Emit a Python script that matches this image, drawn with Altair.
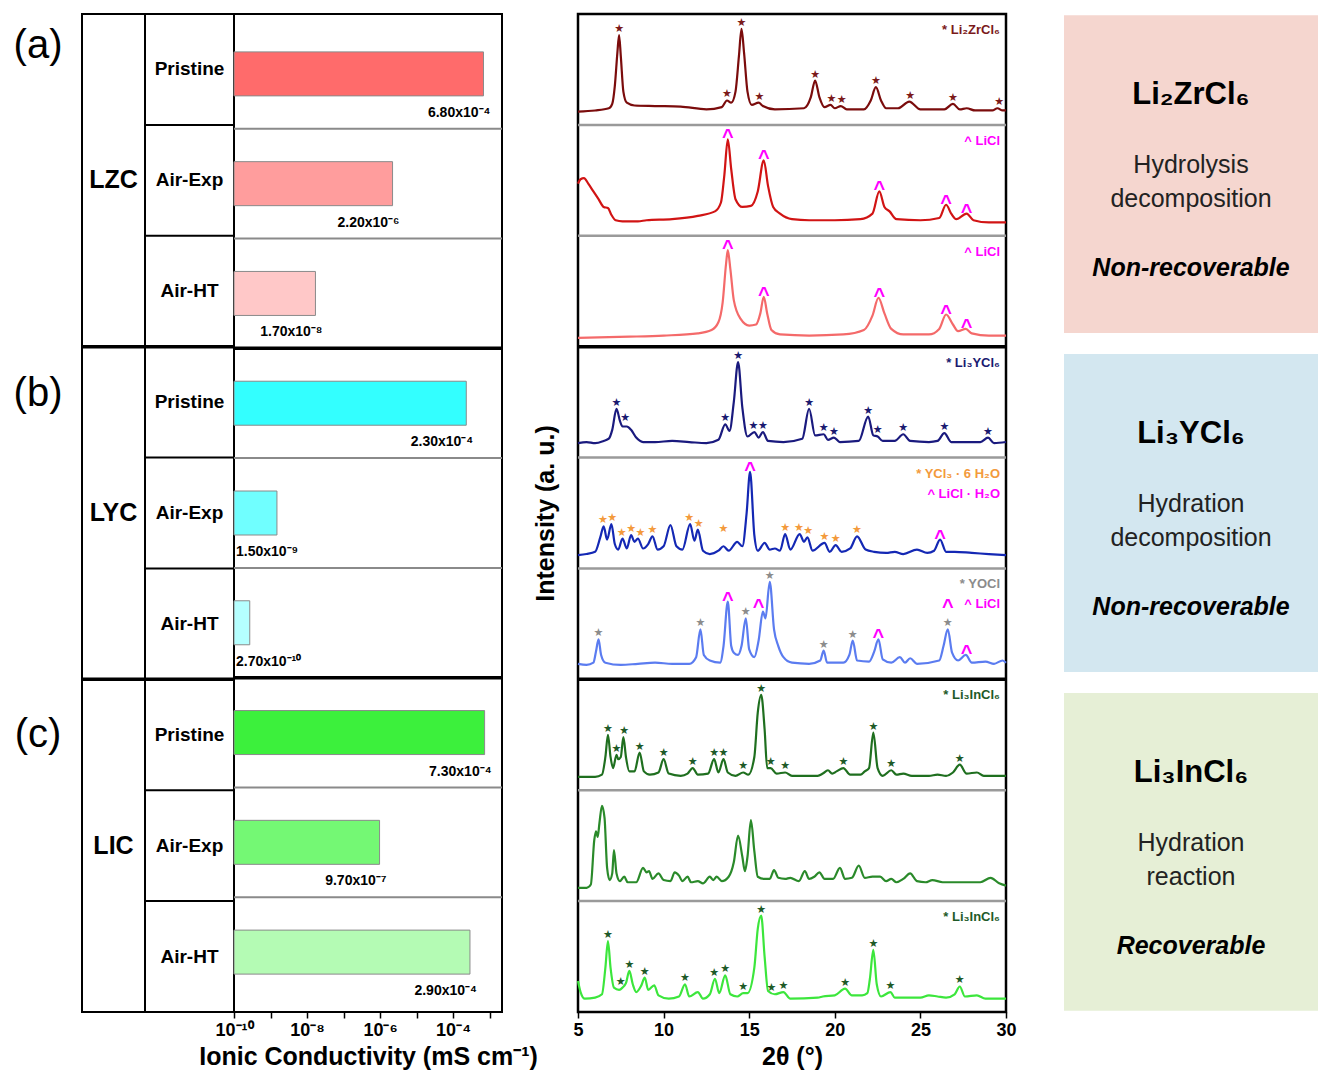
import math
import altair as alt
import pandas as pd

FONT = "Liberation Sans"
STAR_FONT = "DejaVu Sans"

# ---------------- ionic conductivity (left table) ----------------
groups = ["LZC", "LYC", "LIC"]
group_letters = ["(a)", "(b)", "(c)"]
conditions = ["Pristine", "Air-Exp", "Air-HT"]
conductivity_lzc = [6.8e-4, 2.2e-6, 1.7e-8]
conductivity_lyc = [2.3e-4, 1.5e-9, 2.7e-10]
conductivity_lic = [7.3e-4, 9.7e-7, 2.9e-4]
conductivity_ticks = [1e-10, 1e-9, 1e-8, 1e-7, 1e-6, 1e-5, 1e-4, 1e-3]
bar_colors = ["#ff6b6b", "#ff9d9d", "#ffc8c8",
              "#33ffff", "#70ffff", "#b5ffff",
              "#3cf03c", "#74f874", "#b4fbb4"]

# ---------------- XRD patterns (2theta, relative intensity within panel) ----------------
panel_names = ["LZC Pristine", "LZC Air-Exp", "LZC Air-HT",
               "LYC Pristine", "LYC Air-Exp", "LYC Air-HT",
               "LIC Pristine", "LIC Air-Exp", "LIC Air-HT"]
line_colors = ["#7b0c0c", "#d11414", "#f46a6a",
               "#1a1a7e", "#1428b4", "#5b7cf0",
               "#1f6f1f", "#2a8a2a", "#3ce63c"]
twotheta_ticks = [5, 10, 15, 20, 25, 30]

xrd_lzc_pristine = [(5.0,0.12),(6.0,0.13),(6.8,0.15),(7.0,0.19),(7.15,0.35),(7.3,0.65),(7.4,0.81),(7.5,0.62),(7.65,0.3),(7.85,0.2),(8.3,0.175),(9.5,0.17),(11,0.165),(12.5,0.14),(13.4,0.16),(13.7,0.22),(13.95,0.2),(14.2,0.3),(14.4,0.62),(14.55,0.865),(14.7,0.65),(14.9,0.3),(15.15,0.18),(15.55,0.2),(15.8,0.17),(16.5,0.14),(18.2,0.15),(18.6,0.25),(18.85,0.40),(19.1,0.25),(19.4,0.16),(19.75,0.18),(20.0,0.15),(20.35,0.17),(20.7,0.14),(21.7,0.14),(22.1,0.22),(22.4,0.34),(22.7,0.22),(23.0,0.15),(23.7,0.15),(24.35,0.21),(25.0,0.14),(26.4,0.14),(26.9,0.19),(27.3,0.14),(27.7,0.15),(28.2,0.13),(29.2,0.13),(29.5,0.15),(29.8,0.13),(30,0.13)]
xrd_lzc_airexp = [(5.0,0.47),(5.15,0.51),(5.35,0.52),(5.6,0.47),(5.9,0.40),(6.2,0.33),(6.5,0.26),(6.75,0.25),(6.95,0.19),(7.2,0.14),(7.6,0.13),(8.5,0.13),(9.0,0.14),(10.5,0.15),(12.0,0.18),(13.0,0.22),(13.35,0.3),(13.55,0.55),(13.75,0.87),(13.95,0.6),(14.2,0.33),(14.6,0.26),(15.1,0.27),(15.5,0.4),(15.85,0.68),(16.1,0.45),(16.4,0.26),(16.8,0.2),(17.5,0.15),(18.5,0.14),(20.0,0.14),(21.5,0.15),(22.2,0.2),(22.6,0.40),(22.9,0.26),(23.2,0.22),(23.6,0.15),(25.0,0.14),(26.1,0.16),(26.5,0.28),(26.8,0.2),(27.1,0.15),(27.7,0.20),(28.1,0.14),(29,0.12),(30,0.12)]
xrd_lzc_airht = [(5.0,0.08),(8,0.09),(10,0.10),(12,0.12),(12.8,0.15),(13.2,0.22),(13.45,0.4),(13.65,0.75),(13.75,0.87),(13.9,0.7),(14.1,0.42),(14.5,0.25),(15.0,0.19),(15.4,0.2),(15.65,0.3),(15.85,0.45),(16.05,0.3),(16.3,0.15),(16.8,0.11),(18.5,0.1),(20.5,0.11),(21.7,0.15),(22.2,0.28),(22.55,0.44),(22.9,0.3),(23.3,0.16),(24,0.11),(25.5,0.11),(26.1,0.16),(26.5,0.29),(26.9,0.2),(27.2,0.14),(27.65,0.16),(28.0,0.12),(29,0.1),(30,0.1)]
xrd_lyc_pristine = [(5.0,0.13),(5.5,0.14),(6.0,0.13),(6.5,0.15),(6.8,0.17),(7.0,0.25),(7.25,0.44),(7.45,0.33),(7.6,0.28),(7.85,0.28),(8.1,0.25),(8.4,0.18),(8.8,0.14),(9.5,0.14),(10.5,0.15),(11.5,0.14),(12.5,0.13),(13.2,0.16),(13.6,0.30),(13.85,0.24),(14.1,0.5),(14.35,0.86),(14.6,0.45),(14.9,0.19),(15.3,0.23),(15.55,0.18),(15.8,0.23),(16.1,0.15),(17,0.14),(18.1,0.17),(18.5,0.44),(18.85,0.2),(19.35,0.21),(19.6,0.16),(19.95,0.18),(20.3,0.14),(21.4,0.15),(21.95,0.37),(22.25,0.2),(22.5,0.19),(22.8,0.15),(23.5,0.15),(24.0,0.21),(24.4,0.15),(25.5,0.14),(26.0,0.15),(26.4,0.22),(26.8,0.14),(28.5,0.14),(28.95,0.18),(29.3,0.13),(30,0.14)]
xrd_lyc_airexp = [(5.0,0.12),(5.5,0.13),(6.0,0.15),(6.3,0.28),(6.5,0.38),(6.7,0.26),(6.95,0.40),(7.15,0.22),(7.35,0.17),(7.6,0.27),(7.85,0.18),(8.1,0.30),(8.3,0.24),(8.5,0.27),(8.8,0.18),(9.1,0.22),(9.35,0.29),(9.65,0.17),(10.0,0.2),(10.4,0.39),(10.75,0.2),(11.1,0.17),(11.55,0.40),(11.8,0.25),(12.0,0.35),(12.3,0.16),(12.7,0.13),(13.2,0.16),(13.5,0.2),(13.8,0.16),(14.3,0.24),(14.6,0.2),(14.85,0.5),(15.05,0.87),(15.3,0.3),(15.5,0.16),(15.9,0.23),(16.2,0.17),(16.5,0.18),(16.8,0.16),(17.1,0.31),(17.4,0.17),(17.95,0.31),(18.2,0.24),(18.4,0.28),(18.7,0.16),(19.4,0.23),(19.7,0.15),(20.05,0.21),(20.4,0.15),(20.9,0.18),(21.3,0.29),(21.8,0.17),(22.3,0.15),(23.0,0.14),(23.5,0.15),(24.0,0.13),(24.8,0.17),(25.4,0.14),(25.8,0.16),(26.15,0.26),(26.5,0.15),(27.0,0.15),(28.0,0.14),(29,0.13),(30,0.12)]
xrd_lyc_airht = [(5.0,0.14),(5.5,0.13),(5.9,0.15),(6.05,0.25),(6.2,0.36),(6.35,0.22),(6.6,0.15),(7.5,0.13),(8.5,0.14),(9.5,0.15),(10.5,0.14),(11.5,0.14),(11.9,0.2),(12.15,0.45),(12.35,0.22),(12.7,0.17),(13.3,0.15),(13.5,0.3),(13.75,0.70),(13.95,0.3),(14.1,0.24),(14.35,0.22),(14.55,0.3),(14.8,0.55),(15.0,0.27),(15.3,0.2),(15.55,0.35),(15.8,0.61),(15.95,0.55),(16.2,0.88),(16.45,0.45),(16.7,0.3),(17.0,0.2),(17.5,0.15),(18.5,0.14),(19.15,0.17),(19.35,0.26),(19.55,0.15),(20.5,0.15),(20.85,0.22),(21.05,0.35),(21.3,0.17),(22.0,0.16),(22.3,0.25),(22.55,0.36),(22.8,0.18),(23.3,0.15),(23.8,0.2),(24.1,0.15),(24.4,0.19),(24.8,0.14),(26.1,0.17),(26.35,0.3),(26.6,0.45),(26.85,0.24),(27.2,0.17),(27.65,0.22),(28.0,0.15),(28.8,0.16),(29.3,0.14),(29.8,0.17),(30,0.15)]
xrd_lic_pristine = [(5.0,0.12),(6.0,0.12),(6.4,0.14),(6.6,0.3),(6.75,0.50),(6.9,0.3),(7.05,0.2),(7.25,0.32),(7.35,0.28),(7.5,0.3),(7.65,0.48),(7.8,0.3),(8.0,0.17),(8.3,0.17),(8.6,0.34),(8.85,0.17),(9.2,0.14),(9.7,0.16),(10.0,0.28),(10.3,0.15),(11.0,0.13),(11.4,0.15),(11.7,0.20),(12.0,0.14),(12.6,0.15),(12.95,0.28),(13.2,0.16),(13.5,0.28),(13.75,0.16),(14.2,0.13),(14.65,0.16),(14.95,0.14),(15.3,0.3),(15.5,0.7),(15.7,0.86),(15.9,0.55),(16.05,0.2),(16.25,0.2),(16.6,0.15),(17.1,0.16),(17.5,0.13),(18.5,0.13),(19.0,0.13),(19.3,0.15),(19.6,0.18),(19.85,0.15),(20.1,0.17),(20.5,0.20),(20.9,0.14),(21.5,0.14),(21.75,0.17),(22.0,0.2),(22.25,0.52),(22.5,0.2),(22.8,0.13),(23.3,0.18),(23.6,0.14),(24.0,0.15),(24.5,0.13),(25.5,0.13),(26.0,0.14),(26.5,0.13),(26.9,0.16),(27.3,0.23),(27.7,0.15),(28.3,0.16),(28.7,0.13),(30,0.13)]
xrd_lic_airexp = [(5.0,0.12),(5.5,0.12),(5.75,0.15),(5.95,0.55),(6.05,0.63),(6.15,0.58),(6.25,0.7),(6.4,0.86),(6.55,0.75),(6.7,0.3),(6.85,0.19),(7.0,0.25),(7.1,0.46),(7.25,0.25),(7.45,0.18),(7.7,0.22),(7.9,0.17),(8.4,0.17),(8.8,0.30),(9.0,0.26),(9.15,0.27),(9.35,0.2),(9.7,0.25),(10.0,0.19),(10.4,0.18),(10.65,0.26),(10.9,0.23),(11.1,0.18),(11.4,0.22),(11.6,0.17),(12.0,0.18),(12.3,0.16),(12.7,0.22),(12.9,0.19),(13.1,0.22),(13.4,0.18),(13.8,0.22),(14.1,0.35),(14.35,0.59),(14.6,0.4),(14.75,0.27),(14.9,0.4),(15.1,0.73),(15.3,0.45),(15.5,0.22),(15.9,0.2),(16.2,0.2),(16.45,0.28),(16.7,0.21),(17.1,0.2),(17.4,0.21),(17.9,0.18),(18.25,0.27),(18.5,0.2),(18.8,0.22),(19.1,0.26),(19.4,0.2),(19.9,0.2),(20.3,0.30),(20.6,0.2),(21.0,0.21),(21.4,0.32),(21.75,0.21),(22.2,0.22),(22.65,0.22),(23.0,0.18),(23.3,0.2),(23.6,0.17),(24.0,0.2),(24.4,0.25),(24.8,0.18),(25.3,0.17),(25.7,0.19),(26.3,0.17),(27.1,0.17),(27.8,0.17),(28.5,0.17),(29.1,0.21),(29.6,0.16),(30,0.14)]
xrd_lic_airht = [(5.0,0.28),(5.15,0.18),(5.4,0.12),(6.0,0.13),(6.4,0.16),(6.6,0.4),(6.75,0.64),(6.9,0.4),(7.1,0.22),(7.4,0.2),(7.6,0.22),(7.8,0.26),(8.0,0.37),(8.2,0.25),(8.4,0.18),(8.7,0.24),(8.9,0.31),(9.1,0.2),(9.45,0.24),(9.7,0.15),(10.3,0.12),(10.9,0.14),(11.25,0.25),(11.5,0.14),(12.0,0.18),(12.3,0.12),(12.7,0.16),(13.0,0.30),(13.25,0.17),(13.6,0.33),(13.9,0.16),(14.3,0.14),(14.65,0.17),(14.9,0.17),(15.3,0.4),(15.5,0.75),(15.7,0.87),(15.9,0.5),(16.1,0.19),(16.5,0.16),(17.0,0.18),(17.4,0.12),(19.0,0.13),(19.3,0.14),(20.0,0.15),(20.6,0.21),(21.0,0.15),(21.6,0.15),(21.9,0.17),(22.05,0.3),(22.25,0.56),(22.45,0.25),(22.7,0.14),(23.25,0.18),(23.5,0.13),(25.0,0.13),(25.5,0.15),(26.0,0.14),(26.5,0.13),(27.0,0.16),(27.3,0.23),(27.6,0.14),(28.3,0.15),(28.8,0.12),(30,0.12)]
xrd_series = [xrd_lzc_pristine, xrd_lzc_airexp, xrd_lzc_airht,
              xrd_lyc_pristine, xrd_lyc_airexp, xrd_lyc_airht,
              xrd_lic_pristine, xrd_lic_airexp, xrd_lic_airht]

# indexed reflections: (2theta, peak intensity, phase)
phase_names = ["Li2ZrCl6", "LiCl", "Li3YCl6", "YCl3·6H2O", "LiCl·H2O", "YOCl", "Li3InCl6"]
phase_colors = ["#7b1a1a", "#ff00ff", "#1a1a70", "#f39a3c", "#ff00ff", "#8c8c8c", "#1e5a28"]
caret_phases = ["LiCl", "LiCl·H2O"]

peaks_lzc_pristine = [(7.4,0.81,"Li2ZrCl6"),(13.7,0.22,"Li2ZrCl6"),(14.55,0.865,"Li2ZrCl6"),(15.6,0.2,"Li2ZrCl6"),(18.85,0.40,"Li2ZrCl6"),(19.8,0.18,"Li2ZrCl6"),(20.4,0.17,"Li2ZrCl6"),(22.4,0.34,"Li2ZrCl6"),(24.4,0.21,"Li2ZrCl6"),(26.9,0.19,"Li2ZrCl6"),(29.6,0.15,"Li2ZrCl6")]
peaks_lzc_airexp = [(13.75,0.87,"LiCl"),(15.85,0.68,"LiCl"),(22.6,0.40,"LiCl"),(26.5,0.28,"LiCl"),(27.7,0.20,"LiCl")]
peaks_lzc_airht = [(13.75,0.87,"LiCl"),(15.85,0.45,"LiCl"),(22.6,0.44,"LiCl"),(26.5,0.29,"LiCl"),(27.7,0.16,"LiCl")]
peaks_lyc_pristine = [(7.25,0.44,"Li3YCl6"),(7.75,0.30,"Li3YCl6"),(13.6,0.30,"Li3YCl6"),(14.35,0.86,"Li3YCl6"),(15.25,0.23,"Li3YCl6"),(15.8,0.23,"Li3YCl6"),(18.5,0.44,"Li3YCl6"),(19.35,0.21,"Li3YCl6"),(19.95,0.18,"Li3YCl6"),(21.95,0.37,"Li3YCl6"),(22.5,0.19,"Li3YCl6"),(24.0,0.21,"Li3YCl6"),(26.4,0.22,"Li3YCl6"),(28.95,0.18,"Li3YCl6")]
peaks_lyc_airexp = [(6.45,0.38,"YCl3·6H2O"),(7.0,0.40,"YCl3·6H2O"),(7.55,0.27,"YCl3·6H2O"),(8.1,0.30,"YCl3·6H2O"),(8.65,0.27,"YCl3·6H2O"),(9.35,0.29,"YCl3·6H2O"),(11.5,0.40,"YCl3·6H2O"),(12.05,0.35,"YCl3·6H2O"),(13.5,0.30,"YCl3·6H2O"),(17.1,0.31,"YCl3·6H2O"),(17.9,0.31,"YCl3·6H2O"),(18.45,0.28,"YCl3·6H2O"),(19.4,0.23,"YCl3·6H2O"),(20.05,0.21,"YCl3·6H2O"),(21.3,0.29,"YCl3·6H2O"),(15.05,0.87,"LiCl·H2O"),(26.15,0.26,"LiCl·H2O")]
peaks_lyc_airht = [(6.2,0.36,"YOCl"),(12.15,0.45,"YOCl"),(14.8,0.55,"YOCl"),(16.2,0.88,"YOCl"),(19.35,0.26,"YOCl"),(21.05,0.35,"YOCl"),(26.6,0.45,"YOCl"),(13.75,0.70,"LiCl"),(15.55,0.63,"LiCl"),(22.55,0.36,"LiCl"),(26.6,0.63,"LiCl"),(27.7,0.22,"LiCl")]
peaks_lic_pristine = [(6.75,0.50,"Li3InCl6"),(7.25,0.32,"Li3InCl6"),(7.7,0.48,"Li3InCl6"),(8.6,0.34,"Li3InCl6"),(10.0,0.28,"Li3InCl6"),(11.7,0.20,"Li3InCl6"),(12.95,0.28,"Li3InCl6"),(13.5,0.28,"Li3InCl6"),(14.65,0.16,"Li3InCl6"),(15.7,0.86,"Li3InCl6"),(16.25,0.2,"Li3InCl6"),(17.1,0.16,"Li3InCl6"),(20.5,0.20,"Li3InCl6"),(22.25,0.52,"Li3InCl6"),(23.3,0.18,"Li3InCl6"),(27.3,0.23,"Li3InCl6")]
peaks_lic_airexp = []
peaks_lic_airht = [(6.75,0.64,"Li3InCl6"),(7.5,0.22,"Li3InCl6"),(8.0,0.37,"Li3InCl6"),(8.9,0.31,"Li3InCl6"),(11.25,0.25,"Li3InCl6"),(12.95,0.30,"Li3InCl6"),(13.6,0.33,"Li3InCl6"),(14.65,0.17,"Li3InCl6"),(15.7,0.87,"Li3InCl6"),(16.3,0.16,"Li3InCl6"),(17.0,0.18,"Li3InCl6"),(20.6,0.21,"Li3InCl6"),(22.25,0.56,"Li3InCl6"),(23.25,0.18,"Li3InCl6"),(27.3,0.23,"Li3InCl6")]
peak_series = [peaks_lzc_pristine, peaks_lzc_airexp, peaks_lzc_airht,
               peaks_lyc_pristine, peaks_lyc_airexp, peaks_lyc_airht,
               peaks_lic_pristine, peaks_lic_airexp, peaks_lic_airht]

# phase legends inside panels: (text, phase)
legend_series = [[("* Li₂ZrCl₆", "Li2ZrCl6")], [("^ LiCl", "LiCl")], [("^ LiCl", "LiCl")],
                 [("* Li₃YCl₆", "Li3YCl6")], [("* YCl₃ · 6 H₂O", "YCl3·6H2O"), ("^ LiCl · H₂O", "LiCl·H2O")],
                 [("* YOCl", "YOCl"), ("^ LiCl", "LiCl")],
                 [("* Li₃InCl₆", "Li3InCl6")], [], [("* Li₃InCl₆", "Li3InCl6")]]

# ---------------- summary boxes ----------------
box_titles = ["Li₂ZrCl₆", "Li₃YCl₆", "Li₃InCl₆"]
box_line1 = ["Hydrolysis", "Hydration", "Hydration"]
box_line2 = ["decomposition", "decomposition", "reaction"]
box_verdict = ["Non-recoverable", "Non-recoverable", "Recoverable"]
box_colors = ["#f5d6cf", "#d3e7f0", "#e6efd6"]

# ---------------- layout constants ----------------
W_LBL, W_GRP, W_ROW, W_BAR = 74, 63, 89, 268
GAP1, W_XRD, GAP2, W_BOX = 76, 428, 58, 254
H = 998
N_ROWS = 9

# ---------------- build tables ----------------
SUP = str.maketrans("-0123456789", "⁻⁰¹²³⁴⁵⁶⁷⁸⁹")


def sci_label(v):
    e = math.floor(math.log10(v))
    m = v / 10 ** e
    return f"{m:.2f}x10{str(e).translate(SUP)}"


all_cond = [conductivity_lzc, conductivity_lyc, conductivity_lic]
rows = []
for gi, g in enumerate(groups):
    for ci, c in enumerate(conditions):
        p = gi * 3 + ci
        v = all_cond[gi][ci]
        rows.append({"row": f"{g} {c}", "group": g, "cond": c, "value": v,
                     "yc": N_ROWS - p - 0.5, "label": sci_label(v),
                     "short": math.log10(v) < -8.5})
rows_df = pd.DataFrame(rows)
row_ids = list(rows_df["row"])

grp_df = pd.DataFrame({"group": groups,
                       "yc": [N_ROWS - 3 * i - 1.5 for i in range(3)],
                       "letter": group_letters,
                       "ytop": [N_ROWS - 3 * i - 0.5 for i in range(3)]})
minor_b = pd.DataFrame({"y": [b for b in range(1, N_ROWS) if b % 3 != 0]})
major_b = pd.DataFrame({"y": [b for b in range(1, N_ROWS) if b % 3 == 0]})

YS = alt.Scale(domain=[0, N_ROWS], nice=False, zero=False)


def yq(field):
    return alt.Y(field, type="quantitative", scale=YS, axis=None)


table_view = alt.ViewBackground(stroke="black", strokeWidth=2)
no_view = alt.ViewBackground(strokeWidth=0, stroke="transparent")

# letters column
letter_dy = [-23, -8, 0]
letter_layers = []
for i, d in enumerate(letter_dy):
    letter_layers.append(
        alt.Chart(grp_df.iloc[[i]]).mark_text(font=FONT, fontSize=40, dx=-7, dy=d, color="black")
        .encode(y=yq("ytop"), text="letter:N"))
letters = alt.layer(*letter_layers).properties(width=W_LBL, height=H, view=no_view)

# group column
grp_col = alt.layer(
    alt.Chart(major_b).mark_rule(color="black", strokeWidth=3.5).encode(y=yq("y")),
    alt.Chart(grp_df).mark_text(font=FONT, fontSize=25, fontWeight="bold", color="black")
    .encode(y=yq("yc"), text="group:N"),
).properties(width=W_GRP, height=H, view=table_view)

# condition column
row_col = alt.layer(
    alt.Chart(minor_b).mark_rule(color="black", strokeWidth=2).encode(y=yq("y")),
    alt.Chart(major_b).mark_rule(color="black", strokeWidth=3.5).encode(y=yq("y")),
    alt.Chart(rows_df).mark_text(font=FONT, fontSize=19, fontWeight="bold", color="black")
    .encode(y=yq("yc"), text="cond:N"),
).properties(width=W_ROW, height=H, view=table_view)

# bar column
label_expr = ("round(log(datum.value)/LN10) == -10 ? '10⁻¹⁰' : "
              "round(log(datum.value)/LN10) == -8 ? '10⁻⁸' : "
              "round(log(datum.value)/LN10) == -6 ? '10⁻⁶' : "
              "round(log(datum.value)/LN10) == -4 ? '10⁻⁴' : ''")
xlog = alt.X("value:Q",
             scale=alt.Scale(type="log", domain=[1e-10, 10 ** -2.66], nice=False),
             axis=alt.Axis(values=conductivity_ticks, labelExpr=label_expr,
                           labelFont=FONT, labelFontSize=18, labelFontWeight="bold",
                           labelColor="black", labelPadding=3, labelFlush=False,
                           labelOverlap=False, tickSize=6, tickColor="black", tickWidth=1.5,
                           domain=False, grid=False,
                           title="Ionic Conductivity (mS cm⁻¹)", titleFont=FONT,
                           titleFontSize=25, titleFontWeight="bold", titleColor="black",
                           titlePadding=5))
bar_base = alt.Chart(rows_df)
bar_col = alt.layer(
    alt.Chart(minor_b).mark_rule(color="#8a8a8a", strokeWidth=2).encode(y=yq("y")),
    alt.Chart(major_b).mark_rule(color="black", strokeWidth=3.5).encode(y=yq("y")),
    bar_base.mark_bar(orient="horizontal", size=44, stroke="#8a8a8a", strokeWidth=1).encode(
        x=xlog, x2=alt.datum(1e-10), y=yq("yc"),
        color=alt.Color("row:N", scale=alt.Scale(domain=row_ids, range=bar_colors), legend=None)),
    bar_base.transform_filter("!datum.short").mark_text(
        font=FONT, fontSize=14, fontWeight="bold", align="right", dx=7, dy=39, color="black"
    ).encode(x=alt.X("value:Q"), y=yq("yc"), text="label:N"),
    bar_base.transform_filter("datum.short").mark_text(
        font=FONT, fontSize=14, fontWeight="bold", align="left", dx=2, dy=39, color="black"
    ).encode(x=alt.datum(1e-10), y=yq("yc"), text="label:N"),
).properties(width=W_BAR, height=H, view=table_view)


def spacer(w):
    return alt.Chart(pd.DataFrame({"s": [0]})).mark_point(opacity=0).encode(
        y=yq("s")).properties(width=w, height=H, view=no_view)


# ---------------- XRD panel ----------------
xrd_rows, peak_rows, leg_rows = [], [], []
for p, name in enumerate(panel_names):
    base = N_ROWS - 1 - p
    for tt, inten in xrd_series[p]:
        xrd_rows.append({"panel": name, "tt": tt, "y": base + inten})
    for tt, inten, ph in peak_series[p]:
        peak_rows.append({"tt": tt, "y": base + inten, "phase": ph,
                          "glyph": "^" if ph in caret_phases else "★"})
    for li, (txt, ph) in enumerate(legend_series[p]):
        leg_rows.append({"y": base + 1, "text": txt, "phase": ph, "line": li})
xrd_df = pd.DataFrame(xrd_rows)
peak_df = pd.DataFrame(peak_rows)
leg_df = pd.DataFrame(leg_rows)

x_tt = alt.X("tt:Q", scale=alt.Scale(domain=[5, 30], nice=False, zero=False),
             axis=alt.Axis(values=twotheta_ticks, format="d", labelFont=FONT, labelFontSize=18,
                           labelFontWeight="bold", labelColor="black", labelPadding=3,
                           labelFlush=False, tickSize=6, tickColor="black", tickWidth=1.5,
                           domain=False, grid=False, title="2θ (°)", titleFont=FONT,
                           titleFontSize=25, titleFontWeight="bold", titleColor="black",
                           titlePadding=5))
y_int = alt.Y("y:Q", scale=YS,
              axis=alt.Axis(labels=False, ticks=False, domain=False, grid=False,
                            title="Intensity (a. u.)", titleFont=FONT, titleFontSize=25,
                            titleFontWeight="bold", titleColor="black", titlePadding=20))
phase_color = alt.Color("phase:N", scale=alt.Scale(domain=phase_names, range=phase_colors),
                        legend=None)

xrd = alt.layer(
    alt.Chart(minor_b).mark_rule(color="#9a9a9a", strokeWidth=2.5).encode(y=alt.Y("y:Q", scale=YS)),
    alt.Chart(major_b).mark_rule(color="black", strokeWidth=3.5).encode(y=alt.Y("y:Q", scale=YS)),
    alt.Chart(xrd_df).mark_line(interpolate="monotone", strokeWidth=2.2, strokeJoin="round").encode(
        x=x_tt, y=y_int,
        color=alt.Color("panel:N", scale=alt.Scale(domain=panel_names, range=line_colors), legend=None)),
    alt.Chart(peak_df).transform_filter("datum.glyph == '★'").mark_text(
        font=STAR_FONT, fontSize=11, baseline="alphabetic", dy=-3
    ).encode(x="tt:Q", y=alt.Y("y:Q", scale=YS), text="glyph:N", color=phase_color),
    alt.Chart(peak_df).transform_filter("datum.glyph == '^'").mark_text(
        font=FONT, fontSize=20, fontWeight="bold", baseline="alphabetic", dy=4
    ).encode(x="tt:Q", y=alt.Y("y:Q", scale=YS), text="glyph:N", color=phase_color),
    alt.Chart(leg_df).transform_filter("datum.line == 0").mark_text(
        font=FONT, fontSize=13, fontWeight="bold", align="right", baseline="middle", dx=-6, dy=16
    ).encode(x=alt.datum(30), y=alt.Y("y:Q", scale=YS), text="text:N", color=phase_color),
    alt.Chart(leg_df).transform_filter("datum.line == 1").mark_text(
        font=FONT, fontSize=13, fontWeight="bold", align="right", baseline="middle", dx=-6, dy=36
    ).encode(x=alt.datum(30), y=alt.Y("y:Q", scale=YS), text="text:N", color=phase_color),
).resolve_scale(color="independent").properties(
    width=W_XRD, height=H, view=alt.ViewBackground(stroke="black", strokeWidth=2.5))

# ---------------- summary boxes ----------------
box_df = pd.DataFrame({"title": box_titles, "l1": box_line1, "l2": box_line2, "v": box_verdict})
yb = alt.Y("title:N", sort=box_titles,
           scale=alt.Scale(domain=box_titles, paddingInner=0.062, paddingOuter=0.004), axis=None)
bb = alt.Chart(box_df)
boxes = alt.layer(
    bb.mark_rect().encode(y=yb, color=alt.Color("title:N", scale=alt.Scale(domain=box_titles, range=box_colors), legend=None)),
    bb.mark_text(font=FONT, fontSize=31, fontWeight="bold", color="black", dy=-79).encode(y=yb, text="title:N"),
    bb.mark_text(font=FONT, fontSize=25, color="#222222", dy=-9).encode(y=yb, text="l1:N"),
    bb.mark_text(font=FONT, fontSize=25, color="#222222", dy=25).encode(y=yb, text="l2:N"),
    bb.mark_text(font=FONT, fontSize=25, fontWeight="bold", fontStyle="italic", color="black", dy=94).encode(y=yb, text="v:N"),
).properties(width=W_BOX, height=H, view=no_view)

chart = alt.hconcat(
    letters, grp_col, row_col, bar_col, spacer(GAP1), xrd, spacer(GAP2), boxes,
    spacing=0, bounds="flush",
).resolve_scale(color="independent").properties(
    padding={"left": 0, "top": 4, "right": 0, "bottom": 0},
).configure(background="white", view=alt.ViewConfig(stroke=None))

chart.save("out.html", embed_options={"renderer": "svg", "actions": False})
